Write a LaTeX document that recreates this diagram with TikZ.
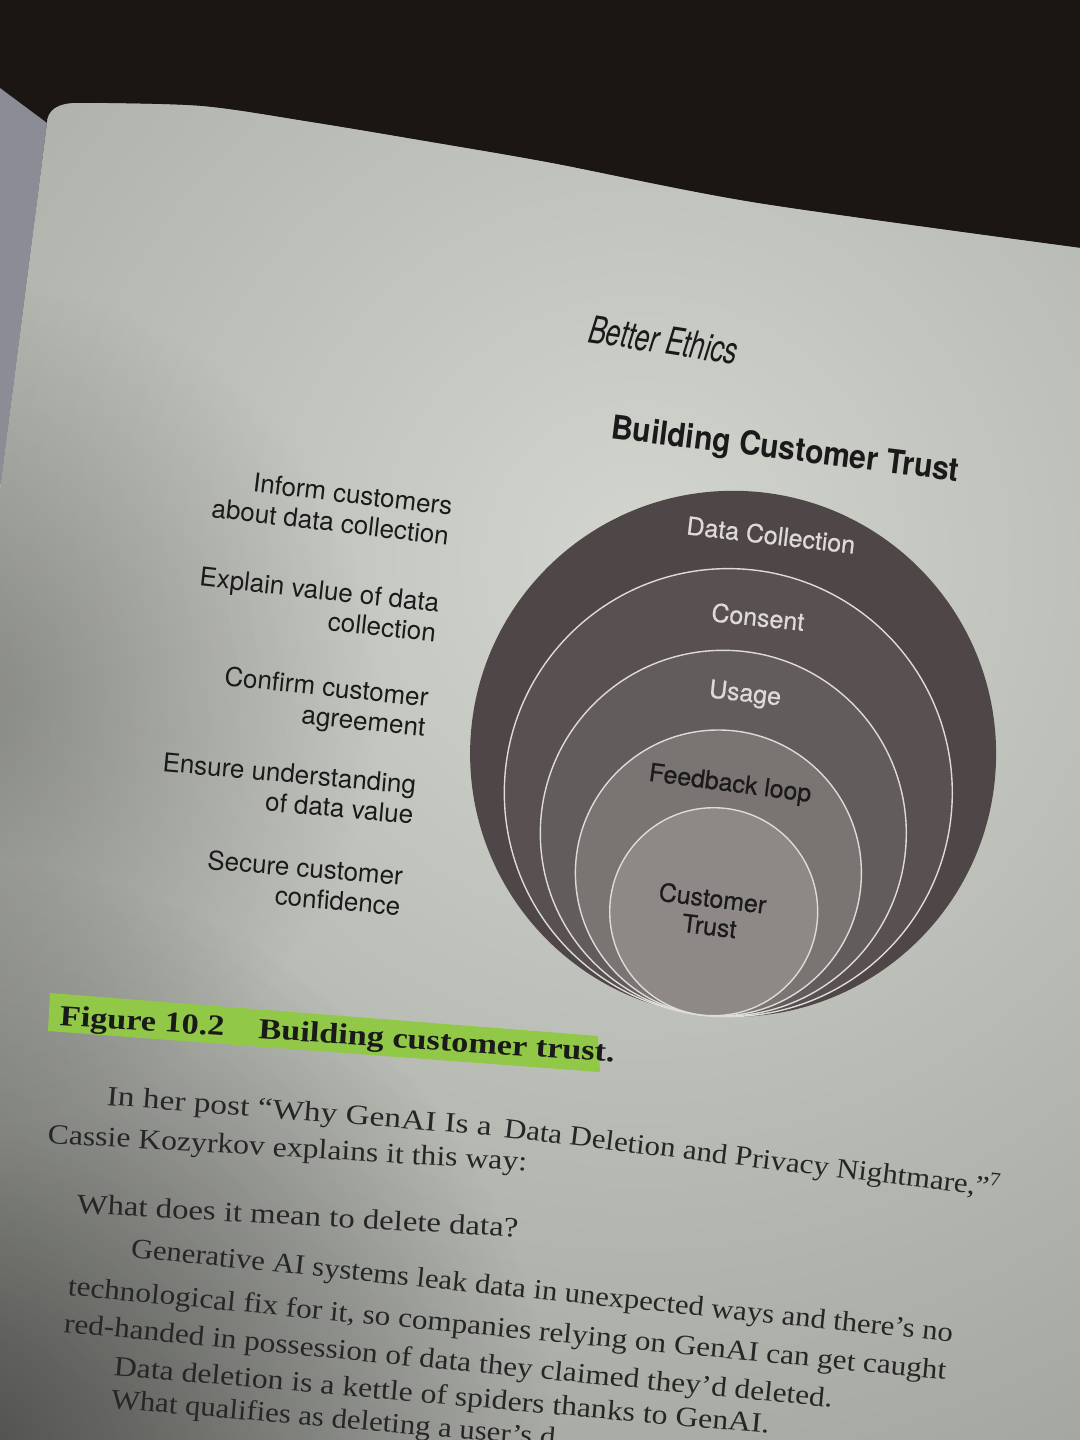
\documentclass[tikz,border=0pt]{standalone}
\usepackage{fontspec}
\usepackage{graphicx}
\usetikzlibrary{fadings}
\setmainfont{Liberation Serif}
\newfontfamily\helv{TeX Gyre Heros}
\newfontfamily\helvmed{TeX Gyre Heros}[FakeBold=0.6]
\newfontfamily\helvcond{TeX Gyre Heros}[FakeStretch=0.72]
\definecolor{bgdark}{HTML}{1C1612}
\definecolor{leftpage}{HTML}{8C8C97}
\definecolor{pagelight}{HTML}{D3D6CF}
\definecolor{pageedge}{HTML}{A4A6A0}
\definecolor{ringA}{HTML}{4F4647}
\definecolor{ringB}{HTML}{585051}
\definecolor{ringC}{HTML}{635C5C}
\definecolor{ringD}{HTML}{7A7473}
\definecolor{ringE}{HTML}{8E8987}
\definecolor{ringline}{HTML}{DCDCD8}
\definecolor{lightink}{HTML}{DDDBD8}
\definecolor{ink}{HTML}{1A1A1A}
\definecolor{bodyink}{HTML}{262626}
\definecolor{marker}{HTML}{92C847}
\tikzfading[name=softspot, inner color=transparent!0, outer color=transparent!100]
\begin{document}
\begin{tikzpicture}[x=0.5pt,y=-0.5pt,
  disc/.style={circle, inner sep=0pt, outer sep=0pt, draw=ringline, line width=0.7pt},
  ringtext/.style={font=\helvmed\fontsize{12.5}{14}\selectfont, inner sep=0pt, align=center},
  sidelabel/.style={font=\helv\fontsize{13}{15}\selectfont, text=ink, inner sep=0pt, align=right, anchor=east},
  bodyline/.style={font=\fontsize{14}{17}\selectfont, text=bodyink, inner sep=0pt, anchor=base west},
]
\useasboundingbox (0,0) rectangle (1080,1440);
% background and pages
\fill[bgdark] (0,0) rectangle (1080,1440);
\fill[leftpage] (0,88) -- (47,123) -- (0,490) -- cycle;
\fill[pageedge] (47,124) .. controls (47,110) and (58,103) .. (78,103)
  -- plot[smooth] coordinates {(78,103) (200,106) (310,122) (430,142) (551,163) (757,203) (1080,248)}
  -- (1080,1440) -- (0,1440) -- (0,490) -- cycle;
\begin{scope}
\clip (47,124) .. controls (47,110) and (58,103) .. (78,103)
  -- plot[smooth] coordinates {(78,103) (200,106) (310,122) (430,142) (551,163) (757,203) (1080,248)}
  -- (1080,1440) -- (0,1440) -- (0,490) -- cycle;
\shade[inner color=pagelight, outer color=pageedge] (640,560) circle (1000);
\fill[black, fill opacity=0.55, path fading=softspot] (-60,1480) circle (620);
\fill[black, fill opacity=0.25, path fading=softspot] (-40,700) circle (420);
\end{scope}

% header
\node[anchor=base west, inner sep=0pt, rotate=-8.8, text=ink, font=\helvcond\itshape\fontsize{19}{22}\selectfont] (hdr) at (587,342) {\resizebox{75pt}{\height}{Better Ethics}};
\node[anchor=base west, inner sep=0pt, rotate=-7.1, text=ink, font=\helv\bfseries\fontsize{15}{18}\selectfont] (title) at (610,438) {\resizebox{175pt}{1.1\height}{Building Customer Trust}};

% nested circles
\node[disc, draw=none, fill=ringA, minimum size=263pt] (dc) at (733.1,753.8) {};
\node[disc, fill=ringB, minimum size=224pt] (co) at (728.3,792.6) {};
\node[disc, fill=ringC, minimum size=183pt] (us) at (723.3,833.3) {};
\node[disc, fill=ringD, minimum size=143pt] (fb) at (718.4,873.0) {};
\node[disc, fill=ringE, minimum size=104pt] (ct) at (713.7,911.7) {};

\node[ringtext, text=lightink, rotate=-6.6] (tdc) at (771,535) {Data Collection};
\node[ringtext, text=lightink, rotate=-6] (tco) at (758,617) {Consent};
\node[ringtext, text=lightink, rotate=-6.5] (tus) at (745,695) {Usage};
\node[ringtext, text=ink, rotate=-7.5] (tfb) at (730,785) {Feedback loop};
\node[ringtext, text=ink, rotate=-7] (tct) at (711,912) {Customer\\Trust};

% side labels
\node[sidelabel, rotate=-6.7] (s1) at (451,521) {Inform customers\\about data collection};
\node[sidelabel, rotate=-6.3] (s2) at (438,618) {Explain value of data\\collection};
\node[sidelabel, rotate=-6.0] (s3) at (427,715) {Confirm customer\\agreement};
\node[sidelabel, rotate=-5.2] (s4) at (415,800) {Ensure understanding\\of data value};
\node[sidelabel, rotate=-4.8] (s5) at (402,891) {Secure customer\\confidence};

% caption
\fill[marker] (50,993) -- (598,1036) -- (600,1072) -- (48,1031) -- cycle;
\node[anchor=base west, inner sep=0pt, rotate=-3.8, text=ink, font=\bfseries\fontsize{14.5}{18}\selectfont] (cap) at (59,1025) {\resizebox{278pt}{\height}{Figure 10.2\hspace{1em}Building customer trust.}};

% body text (the first line follows the page's curve in two parts)
\node[bodyline, rotate=-4.5] (p1a) at (106,1105) {\resizebox{193pt}{\height}{In her post “Why GenAI Is a}};
\node[bodyline, rotate=-6.9] (p1b) at (503,1137) {\resizebox{250pt}{\height}{Data Deletion and Privacy Nightmare,”\textsuperscript{7}}};
\node[bodyline, rotate=-3.3] (p2) at (47,1143) {\resizebox{240pt}{\height}{Cassie Kozyrkov explains it this way:}};
\node[bodyline, rotate=-3.1] (p3) at (76,1213) {\resizebox{221pt}{\height}{What does it mean to delete data?}};
\node[bodyline, rotate=-5.9] (p4) at (130,1257) {\resizebox{413pt}{\height}{Generative AI systems leak data in unexpected ways and there’s no}};
\node[bodyline, rotate=-5.5] (p5) at (67,1295) {\resizebox{441pt}{\height}{technological fix for it, so companies relying on GenAI can get caught}};
\node[bodyline, rotate=-5.6] (p6) at (63,1332) {\resizebox{386pt}{\height}{red-handed in possession of data they claimed they’d deleted.}};
\node[bodyline, rotate=-5.1] (p7) at (113,1375) {\resizebox{329pt}{\height}{Data deletion is a kettle of spiders thanks to GenAI.}};
\node[bodyline, rotate=-5.0] (p8) at (110,1408) {\scalebox{1.1}[1]{What qualifies as deleting a user’s d}};
\end{tikzpicture}
\end{document}
